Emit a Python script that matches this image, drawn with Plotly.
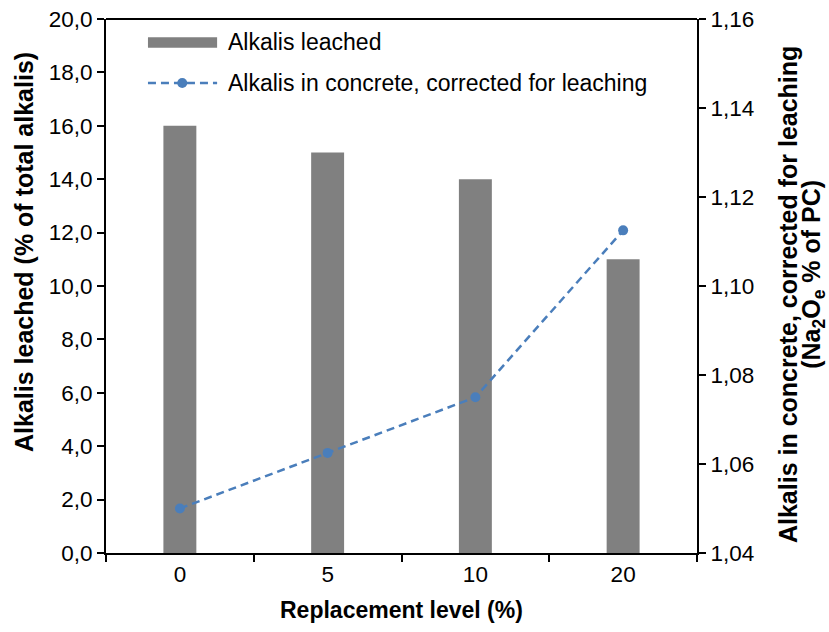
import plotly.graph_objects as go

categories = ["0", "5", "10", "20"]
alkalis_leached = [16.0, 15.0, 14.0, 11.0]
alkalis_concrete = [1.050, 1.0625, 1.075, 1.1125]
series_names = ["Alkalis leached", "Alkalis in concrete, corrected for leaching"]
x_title = "<b>Replacement level (%)</b>"
y_title = "<b>Alkalis leached (% of total alkalis)</b>"
y2_title_1 = "<b>Alkalis in concrete, corrected for leaching</b>"
y2_title_2 = "<b>(Na<sub>2</sub>O<sub>e</sub> % of PC)</b>"

bar_color = "#808080"
line_color = "#4A7EBB"
font = "Liberation Sans, Arial, sans-serif"

fig = go.Figure()
fig.add_trace(go.Bar(
    x=categories, y=alkalis_leached, name=series_names[0],
    marker=dict(color=bar_color, line=dict(width=0)), yaxis="y"))
fig.add_trace(go.Scatter(
    x=categories, y=alkalis_concrete, name=series_names[1],
    mode="lines+markers", line=dict(color=line_color, width=2.5, dash="8px,5px"),
    marker=dict(color=line_color, size=10), yaxis="y2"))

# custom legend (paper coordinates) + top frame line
shapes = [
    dict(type="line", xref="paper", yref="paper", x0=0, x1=1, y0=1, y1=1,
         line=dict(color="black", width=2)),
    dict(type="rect", xref="paper", yref="paper", x0=0.071, x1=0.188, y0=0.946, y1=0.966,
         line=dict(width=0), fillcolor=bar_color),
    dict(type="line", xref="paper", yref="paper", x0=0.071, x1=0.188, y0=0.880, y1=0.880,
         line=dict(color=line_color, width=2.5, dash="8px,5px")),
    dict(type="circle", xref="paper", yref="paper", xsizemode="pixel", ysizemode="pixel",
         xanchor=0.129, yanchor=0.880, x0=-5, x1=5, y0=-5, y1=5,
         line=dict(width=0), fillcolor=line_color),
]
annotations = [
    dict(text=series_names[0], xref="paper", yref="paper", x=0.203, y=0.956,
         xanchor="left", yanchor="middle", showarrow=False, font=dict(size=23)),
    dict(text=series_names[1], xref="paper", yref="paper", x=0.203, y=0.880,
         xanchor="left", yanchor="middle", showarrow=False, font=dict(size=23)),
    dict(text=x_title, xref="paper", yref="paper", x=0.5008, y=-0.1067,
         xanchor="center", yanchor="middle", showarrow=False, font=dict(size=23)),
    dict(text=y_title, xref="paper", yref="paper", x=-0.1387, y=0.5637, textangle=-90,
         xanchor="center", yanchor="middle", showarrow=False, font=dict(size=25)),
    dict(text=y2_title_1, xref="paper", yref="paper", x=1.154, y=0.4831, textangle=-90,
         xanchor="center", yanchor="middle", showarrow=False, font=dict(size=25)),
    dict(text=y2_title_2, xref="paper", yref="paper", x=1.196, y=0.5225, textangle=-90,
         xanchor="center", yanchor="middle", showarrow=False, font=dict(size=25)),
]

fig.update_layout(
    width=829, height=632,
    margin=dict(l=106, r=132, t=19, b=79),
    plot_bgcolor="white", paper_bgcolor="white",
    separators=",.",
    bargap=0.777,
    font=dict(family=font, size=22, color="black"),
    showlegend=False,
    xaxis=dict(type="category", showline=True, linecolor="black", linewidth=2,
               ticks="outside", tickson="boundaries", ticklen=7, tickcolor="black",
               tickwidth=1.5, showgrid=False, automargin=False,
               tickfont=dict(size=22.5)),
    yaxis=dict(range=[0, 20], dtick=2, tickformat=".1f", showline=True,
               linecolor="black", linewidth=2, ticks="outside", ticklen=7,
               tickwidth=1.5, tickcolor="black", showgrid=False, zeroline=False,
               automargin=False, tickfont=dict(size=22.5)),
    yaxis2=dict(range=[1.04, 1.16], dtick=0.02, tickformat=".2f", overlaying="y",
                side="right", showline=True, linecolor="black", linewidth=2,
                ticks="outside", ticklen=7, tickwidth=1.5, tickcolor="black",
                showgrid=False, zeroline=False, automargin=False,
                tickfont=dict(size=22.5)),
    shapes=shapes,
    annotations=annotations,
)

fig.write_html("out.html", config={"displayModeBar": False},
               post_script="document.body.style.margin='0px';")
